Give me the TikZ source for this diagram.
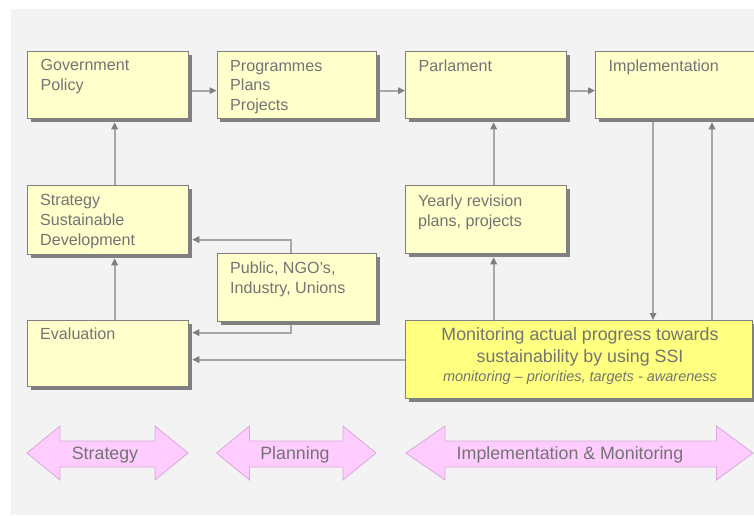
\documentclass[tikz,border=0pt]{standalone}
\usepackage{fontspec}
\setmainfont{Liberation Sans}
\usetikzlibrary{arrows.meta,shadows,calc}
\pgfdeclarelayer{bg}
\pgfdeclarelayer{conn}
\pgfsetlayers{bg,conn,main}
\definecolor{boxfill}{HTML}{FFFFCC}
\definecolor{monfill}{HTML}{FFFF80}
\definecolor{boxline}{HTML}{808080}
\definecolor{shade}{HTML}{808080}
\definecolor{txt}{HTML}{747474}
\definecolor{connline}{HTML}{A8A8A8}
\definecolor{tipcol}{HTML}{7F7F7F}
\definecolor{pinkfill}{HTML}{FFCCFF}
\definecolor{pinkline}{HTML}{D8A8D8}
\definecolor{panel}{HTML}{F3F3F3}
\begin{document}
\begin{tikzpicture}[x=1pt,y=-1pt,
  ybox/.style={draw=boxline, line width=1.3pt, fill=boxfill, anchor=north west, inner sep=0pt,
    drop shadow={shadow xshift=3pt, shadow yshift=-3pt, fill=shade, opacity=1}},
  btxt/.style={inner sep=0pt, anchor=north west, align=left, text=txt, font=\fontsize{16.1}{19.8}\selectfont},
  mtxt/.style={inner sep=0pt, anchor=base, text=txt},
  ptxt/.style={inner sep=0pt, anchor=base, text=txt, font=\fontsize{17.8}{20}\selectfont},
  conn/.style={draw=connline, line width=1.7pt, -{Triangle[length=7pt,width=6.5pt,color=tipcol]}},
  pinkarrow/.style={fill=pinkfill, draw=pinkline, line width=0.8pt, line join=miter}
]
\useasboundingbox (0,0) rectangle (754,515);
\begin{pgfonlayer}{bg}
\fill[white] (0,0) rectangle (754,515);
\fill[panel] (11,9) rectangle (754,515);
\end{pgfonlayer}

% boxes
\node[ybox, minimum width=161pt, minimum height=67pt] (gov) at (27,51) {};
\node[ybox, minimum width=159.5pt, minimum height=67pt] (prog) at (216.5,51) {};
\node[ybox, minimum width=161pt, minimum height=67pt] (parl) at (405,51) {};
\node[ybox, minimum width=175pt, minimum height=67pt] (impl) at (595,51) {};
\node[ybox, minimum width=161pt, minimum height=69pt] (strat) at (27,185) {};
\node[ybox, minimum width=159pt, minimum height=68pt] (public) at (217,253) {};
\node[ybox, minimum width=161pt, minimum height=66pt] (eval) at (27,320) {};
\node[ybox, minimum width=161pt, minimum height=68pt] (yearly) at (405,185) {};
\node[ybox, fill=monfill, minimum width=347pt, minimum height=78pt] (monitor) at (405,320) {};

% box texts
\node[btxt] (govT) at ($(gov.north west)+(13.5,8.3)$) {Government\\Policy};
\node[btxt] (progT) at ($(prog.north west)+(13.5,8.8)$) {Programmes\\Plans\\Projects};
\node[btxt] (parlT) at ($(parl.north west)+(13.5,8.8)$) {Parlament};
\node[btxt] (implT) at ($(impl.north west)+(13.5,8.8)$) {Implementation};
\node[btxt] (stratT) at ($(strat.north west)+(13,9.5)$) {Strategy\\Sustainable\\Development};
\node[btxt] (publicT) at ($(public.north west)+(13,8.5)$) {Public, NGO's,\\Industry, Unions};
\node[btxt] (evalT) at ($(eval.north west)+(13,7.5)$) {Evaluation};
\node[btxt] (yearlyT) at ($(yearly.north west)+(13,9.5)$) {Yearly revision\\plans, projects};
\node[mtxt, font=\fontsize{17.8}{20}\selectfont] (monT1) at (580,340.5) {Monitoring actual progress towards};
\node[mtxt, font=\fontsize{17.8}{20}\selectfont] (monT2) at (580,362) {sustainability by using SSI};
\node[mtxt, font=\fontsize{14.5}{16}\selectfont\itshape] (monT3) at (580,381) {monitoring – priorities, targets - awareness};

% helper coordinates
\coordinate (c653) at (653,0);
\coordinate (c712) at (712,0);

% connectors
\begin{pgfonlayer}{conn}
\draw[conn] ([yshift=-5.5pt]gov.east) -- ([yshift=-5.5pt]prog.west);
\draw[conn] ([yshift=-5.5pt]prog.east) -- ([yshift=-5.5pt]parl.west);
\draw[conn] ([yshift=-5.5pt]parl.east) -- ([yshift=-5.5pt]impl.west);
\draw[conn,shorten >=3pt] ([xshift=6.5pt]strat.north) -- ([xshift=6.5pt]gov.south);
\draw[conn,shorten >=3pt] ([xshift=6.5pt]eval.north) -- ([xshift=6.5pt]strat.south);
\draw[conn,shorten >=3pt] ([xshift=-6.5pt]public.north) |- ([yshift=-19.5pt]strat.east);
\draw[conn,shorten >=3pt] ([xshift=-6.5pt]public.south) |- ([yshift=21pt]eval.east);
\draw[conn,shorten >=3pt] (monitor.west) -- (monitor.west -| eval.east);
\draw[conn,shorten >=3pt] ([xshift=7.5pt]yearly.north) -- ([xshift=7.5pt]parl.south);
\draw[conn,shorten >=3pt] ([xshift=7.5pt]yearly.south |- monitor.north) -- ([xshift=7.5pt]yearly.south);
\draw[conn] (impl.south -| c653) -- (monitor.north -| c653);
\draw[conn,shorten >=3pt] (monitor.north -| c712) -- (impl.south -| c712);
\end{pgfonlayer}

% phase arrows
\draw[pinkarrow] (27,453) -- (60,426) -- (60,441) -- (155,441) -- (155,426) -- (188,453)
  -- (155,480) -- (155,467) -- (60,467) -- (60,480) -- cycle;
\draw[pinkarrow] (216.5,453) -- (249.5,426) -- (249.5,441) -- (343,441) -- (343,426) -- (376,453)
  -- (343,480) -- (343,467) -- (249.5,467) -- (249.5,480) -- cycle;
\draw[pinkarrow] (406,453) -- (445,426) -- (445,441) -- (716.5,441) -- (716.5,426) -- (753,453)
  -- (716.5,480) -- (716.5,467) -- (445,467) -- (445,480) -- cycle;
\node[ptxt] (lblS) at (105,459) {Strategy};
\node[ptxt] (lblP) at (295,459) {Planning};
\node[ptxt] (lblI) at (570,459) {Implementation \& Monitoring};
\end{tikzpicture}
\end{document}
